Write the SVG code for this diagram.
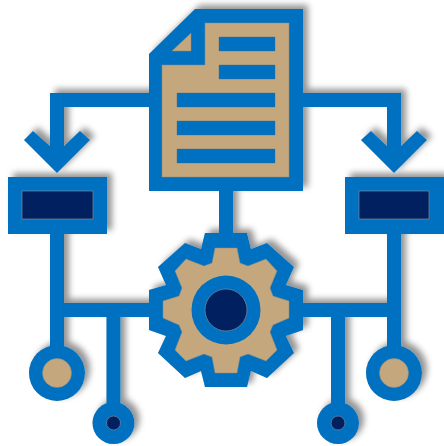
<svg xmlns="http://www.w3.org/2000/svg" width="444" height="446" viewBox="0 0 444 446">
<style>
.b{fill:#0070c0}
.t{fill:#c4a77c;stroke:#8d8a80;stroke-width:.5}
.d{fill:#002060;stroke:#7d8aa0;stroke-width:.7}
.l{fill:#0070c0;stroke:#4a6f90;stroke-width:.4}
</style>
<defs>
<filter id="sh" x="-5%" y="-5%" width="110%" height="110%" color-interpolation-filters="sRGB">
<feGaussianBlur in="SourceAlpha" stdDeviation="3"/>
<feOffset dx="4.500" dy="-4.500"/>
<feComponentTransfer result="s"><feFuncR type="linear" slope="0" intercept=".25"/><feFuncG type="linear" slope="0" intercept=".25"/><feFuncB type="linear" slope="0" intercept=".25"/><feFuncA type="linear" slope=".56"/></feComponentTransfer>
<feGaussianBlur in="SourceAlpha" stdDeviation=".4"/>
<feComponentTransfer result="e"><feFuncR type="linear" slope="0" intercept=".85"/><feFuncG type="linear" slope="0" intercept=".85"/><feFuncB type="linear" slope="0" intercept=".85"/><feFuncA type="linear" slope="1.300"/></feComponentTransfer>
<feMerge><feMergeNode in="s"/><feMergeNode in="e"/><feMergeNode in="SourceGraphic"/></feMerge>
</filter>
</defs>
<g filter="url(#sh)">
<g id="connectors" class="b">
<path d="M149 93H50V146L33 131L24 140L57 173L90 140L80 131L64 146V107H149Z"/>
<path d="M303 93H401V146L417 131L427 140L394 173L361 140L371 131L387 146V107H303Z"/>
<rect x="219" y="190" width="14" height="50"/>
<rect x="50" y="233" width="14" height="120"/>
<rect x="387" y="233" width="14" height="120"/>
<rect x="50" y="303" width="351" height="14"/>
<rect x="106.500" y="316" width="14" height="90"/>
<rect x="331" y="316" width="14" height="90"/>
</g>
<g id="document">
<path class="b" d="M149 54L195 9H303V191H149Z"/>
<path class="t" d="M205 23H289V177H162V65H205Z"/>
<path class="t" d="M172 51L191 33V51Z"/>
<rect class="l" x="219" y="37" width="56" height="14"/>
<rect class="l" x="219" y="65" width="56" height="14"/>
<rect class="l" x="177" y="93" width="98" height="14"/>
<rect class="l" x="177" y="121" width="98" height="14"/>
<rect class="l" x="177" y="149" width="98" height="14"/>
</g>
<g id="box-left">
<rect class="b" x="8" y="177" width="99" height="57"/>
<rect class="d" x="22" y="191" width="71" height="28"/>
</g>
<g id="box-right">
<rect class="b" x="345" y="177" width="99" height="57"/>
<rect class="d" x="359" y="191" width="70" height="28"/>
</g>
<g id="gear" transform="translate(226 310)">
<path class="b" d="M77 -20L77 20L60 26L68 43L41 68L25 61L21 77L-21 77L-25 61L-41 68L-68 43L-60 26L-77 20L-77 -20L-60 -25L-68 -43L-41 -67L-25 -61L-21 -77L21 -77L25 -61L41 -67L68 -43L60 -25Z"/>
<path class="t" d="M63 -9L63 8L47 15L44 22L51 40L40 51L22 44L14 47L11 63L-11 63L-14 47L-22 44L-40 51L-51 40L-44 22L-47 15L-63 8L-63 -9L-47 -14L-44 -22L-51 -39L-40 -51L-22 -44L-14 -47L-11 -62L11 -62L14 -47L22 -44L40 -51L51 -39L44 -22L47 -14Z"/>
<circle class="b" r="34.500"/>
<circle class="d" r="21"/>
</g>
<g id="terminal-1"><circle class="b" cx="57" cy="373" r="28"/><circle class="t" cx="57" cy="373" r="14.500"/></g>
<g id="terminal-2"><circle class="b" cx="113.500" cy="423" r="21"/><circle class="d" cx="113.500" cy="423" r="7"/></g>
<g id="terminal-3"><circle class="b" cx="338" cy="423" r="21"/><circle class="d" cx="338" cy="423" r="7"/></g>
<g id="terminal-4"><circle class="b" cx="394" cy="373" r="28"/><circle class="t" cx="394" cy="373" r="14.500"/></g>
</g>
</svg>
